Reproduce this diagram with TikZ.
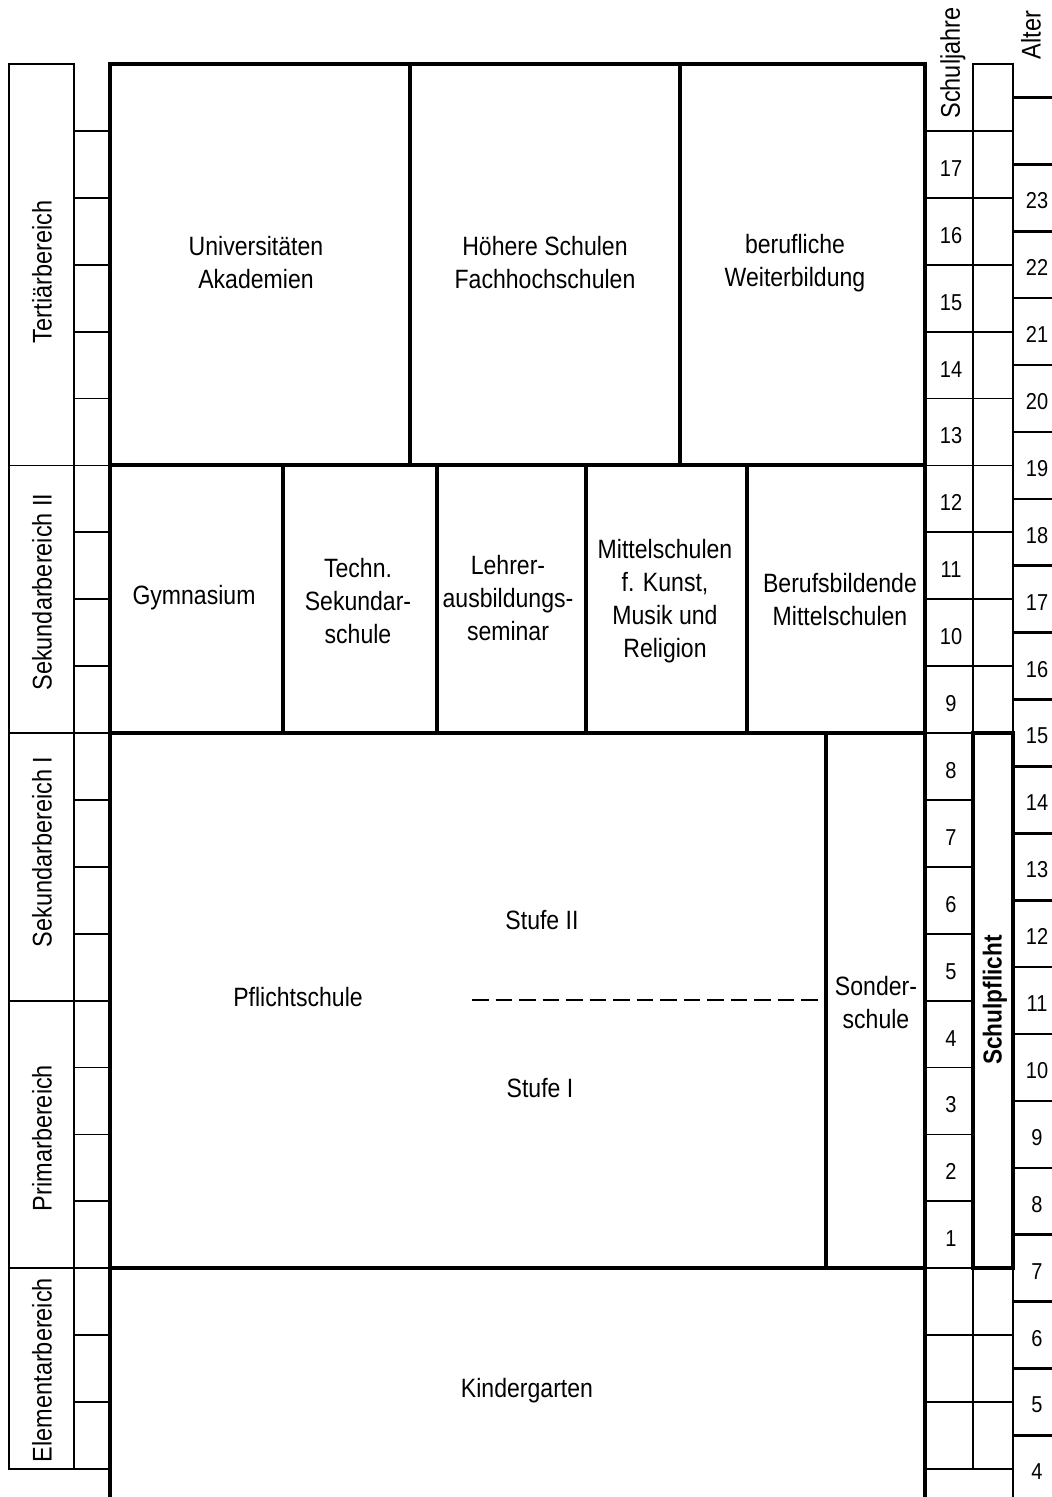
\documentclass[tikz,border=0pt]{standalone}
\usepackage{fontspec}
\setmainfont{Liberation Sans}[FakeStretch=0.87]
\begin{document}
\begin{tikzpicture}[x=1pt,y=-1pt,
  thinline/.style={line width=1.8pt},
  midline/.style={line width=2.6pt},
  heavy/.style={line width=4pt},
  lbl/.style={align=center,font=\fontsize{26.5}{33}\selectfont,inner sep=0pt},
  side/.style={rotate=90,font=\fontsize{27}{30}\selectfont,inner sep=0pt},
  num/.style={font=\fontsize{23}{26}\selectfont,inner sep=0pt},
]
\useasboundingbox (0,0) rectangle (1052,1497);
% row pitch: one school year
\def\rp{66.9}
% left column: areas and year ticks
\foreach \a/\b in {64/465.4, 465.4/733, 733/1000.6, 1000.6/1268.2, 1268.2/1469}
  \draw[thinline] (9,\a) rectangle (74,\b);
\foreach \k in {1,...,21}
  \draw[thinline] (74,{64+\rp*\k}) -- (110,{64+\rp*\k});
\node[side] (tert) at (42,272) {Tertiärbereich};
\node[side] (sek2) at (42,592) {Sekundarbereich II};
\node[side] (sek1) at (42,852) {Sekundarbereich I};
\node[side] (prim) at (42,1138) {Primarbereich};
\node[side] (elem) at (42,1370) {Elementarbereich};
% school year column and age column
\foreach \k in {1,...,21}{
  \ifnum\k>10 \ifnum\k<18
    \draw[thinline] (925,{64+\rp*\k}) -- (973,{64+\rp*\k});
  \else
    \draw[thinline] (925,{64+\rp*\k}) -- (1013,{64+\rp*\k});
  \fi\else
    \draw[thinline] (925,{64+\rp*\k}) -- (1013,{64+\rp*\k});
  \fi}
\draw[thinline] (973,1469) -- (973,64) -- (1013,64);
\draw[midline] (1013,62.7) -- (1013,1497);
\foreach \k in {0,...,20}
  \draw[midline] (1013,{64+\rp*\k+33.45}) -- (1052,{64+\rp*\k+33.45});
\node[side] (sj) at (953,63) {Schuljahre};
\node[side] (alter) at (1031,35) {Alter};
\foreach \n in {1,...,17}
  \node[num] (sj\n) at (951,{1268.2-\rp*\n+37.5}) {\n};
\foreach \a in {4,...,23}
  \node[num] (age\a) at (1037,{1268.2-\rp*(\a-7)+3}) {\a};
\draw[heavy] (973,733) rectangle (1013,1268.2);
\node[side,font=\fontsize{26}{30}\selectfont\bfseries] (pflicht) at (995,1000) {Schulpflicht};
% main frame
\draw[heavy] (110,1497) -- (110,64) -- (925,64) -- (925,1497);
\draw[heavy] (110,465.4) -- (925,465.4);
\draw[heavy] (110,733) -- (925,733);
\draw[heavy] (110,1268.2) -- (925,1268.2);
\draw[heavy] (410,64) -- (410,465.4);
\draw[heavy] (680,64) -- (680,465.4);
\foreach \x in {283,437,586,747}
  \draw[heavy] (\x,465.4) -- (\x,733);
\draw[heavy] (826,733) -- (826,1268.2);
\draw[thinline,dash pattern=on 16.5pt off 7pt] (472,1000) -- (826,1000);
% institutions
\node[lbl] (uni) at (256,263) {Universitäten\\Akademien};
\node[lbl] (hs) at (545,263) {Höhere Schulen\\Fachhochschulen};
\node[lbl] (wb) at (795,263) {berufliche\\Weiterbildung};
\node[lbl] (gym) at (194,598) {Gymnasium};
\node[lbl] (techn) at (358,601) {Techn.\\Sekundar-\\schule};
\node[lbl] (lehr) at (508,598) {Lehrer-\\ausbildungs-\\seminar};
\node[lbl] (mittel) at (665,601) {Mittelschulen\\f. Kunst,\\Musik und\\Religion};
\node[lbl] (bbm) at (840,600) {Berufsbildende\\Mittelschulen};
\node[lbl] (pfl) at (298,997) {Pflichtschule};
\node[lbl] (st2) at (542,920) {Stufe II};
\node[lbl] (st1) at (540,1088) {Stufe I};
\node[lbl] (sonder) at (876,1003) {Sonder-\\schule};
\node[lbl] (kg) at (527,1391) {Kindergarten};
\end{tikzpicture}
\end{document}
